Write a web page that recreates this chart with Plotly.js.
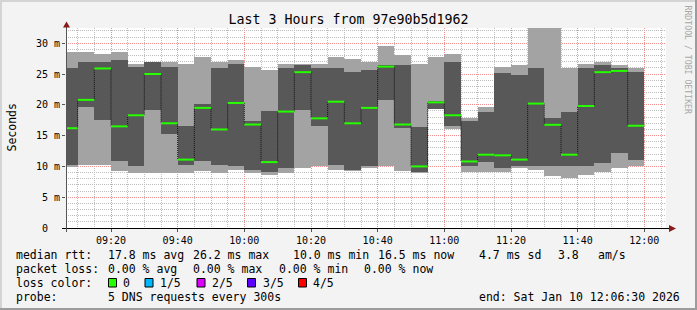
<!DOCTYPE html>
<html>
<head>
<meta charset="utf-8">
<script src="https://cdn.plot.ly/plotly-3.0.1.min.js"></script>
<style>html,body{margin:0;padding:0;background:#f3f3f3;}#chart{width:697px;height:310px;}</style>
</head>
<body>
<div id="chart"></div>
<script>
// End time of each 5-minute step (RRD step 300 s)
var stepEnds = [
 "09:10","09:15","09:20","09:25","09:30","09:35","09:40","09:45","09:50","09:55",
 "10:00","10:05","10:10","10:15","10:20","10:25","10:30","10:35","10:40","10:45",
 "10:50","10:55","11:00","11:05","11:10","11:15","11:20","11:25","11:30","11:35",
 "11:40","11:45","11:50","11:55","12:00"];
// Sorted ping times (ms) per step: ping1 (fastest) .. ping5 (slowest); ping3 = median
var ping1 = [9.9,10.2,10.3,9.3,9.0,9.0,9.0,9.0,9.3,9.0,9.4,8.9,8.6,9.0,9.7,10.0,9.4,9.2,9.66,10.0,9.3,9.0,19.4,16.0,9.06,9.06,9.06,9.7,9.4,8.4,8.1,8.6,9.06,9.7,10.0];
var ping2 = [10.3,19.7,17.6,10.8,10.0,19.1,15.3,10.2,10.95,10.2,10.0,9.4,9.06,9.66,19.1,16.6,10.25,9.4,10.0,20.7,16.2,9.06,19.4,16.6,10.0,10.7,9.8,10.0,10.0,10.0,10.0,10.0,10.6,12.25,11.1];
var median = [16.2,20.8,25.9,16.5,18.3,25.0,17.0,11.1,19.5,16.0,20.3,16.8,10.7,18.9,25.3,17.8,20.5,17.0,19.5,26.2,16.8,10.0,20.4,18.3,10.8,11.9,11.8,11.1,20.2,16.75,11.9,19.8,25.3,25.5,16.6];
var ping4 = [25.9,26.9,26.9,27.3,26.2,26.9,26.2,16.6,20.05,26.05,26.7,17.45,19.0,25.9,26.5,26.05,26.05,25.4,25.7,26.5,26.5,16.4,20.6,27.0,17.45,18.9,25.2,24.9,25.9,17.8,18.9,25.9,26.5,25.9,25.4];
var ping5 = [28.65,28.5,28.2,28.65,26.7,27.0,26.9,26.7,27.7,26.9,27.3,26.2,25.7,26.7,26.6,26.7,27.7,27.5,27.0,29.5,28.05,26.7,27.7,28.2,17.8,19.6,26.2,26.5,34.0,34.0,26.05,26.7,27.0,26.5,26.05];
var yTickVals = [0,5,10,15,20,25,30];
var yTickText = ["0\u00a0\u00a0","5 m","10 m","15 m","20 m","25 m","30 m"];
var titleText = "Last 3 Hours from 97e90b5d1962";

var DAY = "2026-01-10 ";
var STEP = 300000;
var xs = stepEnds.map(function(t){return DAY + t + ":00";});
function ms(s){return new Date(s.replace(" ","T")+"Z").getTime();}
function iso(v){return new Date(v).toISOString().replace("T"," ").replace("Z","");}

var lightTrace = {type:"bar", x:xs, base:ping1, y:ping5.map(function(v,i){return v-ping1[i];}),
  width:STEP, offset:-STEP, marker:{color:"#a3a3a3", line:{width:0}}, hoverinfo:"skip", showlegend:false};
var darkTrace = {type:"bar", x:xs, base:ping2, y:ping4.map(function(v,i){return v-ping2[i];}),
  width:STEP, offset:-STEP, marker:{color:"#585858", line:{width:0}}, hoverinfo:"skip", showlegend:false};
var stepLine = {type:"scatter", mode:"lines", x:xs, y:median, line:{shape:"vh", color:"#111", width:1, dash:"1px,1px"},
  hoverinfo:"skip", showlegend:false};
var gx=[], gy=[];
xs.forEach(function(x,i){ gx.push(iso(ms(x)-STEP), x, null); gy.push(median[i], median[i], null); });
var greenLine = {type:"scatter", mode:"lines", x:gx, y:gy, line:{color:"#26ff00", width:2}, hoverinfo:"skip", showlegend:false};

var L=66, R=666, T=28, B=228;
function px(x){return (x-L)/(R-L);}
function py(y){return (B-y)/(B-T);}
var mono = "DejaVu Sans Mono";
var ann = [];
function txt(x,y,s,opt){
  opt=opt||{};
  ann.push({xref:"paper",yref:"paper",x:px(x),y:py(y),text:s,showarrow:false,
    xanchor:opt.xanchor||"left",yanchor:"middle",borderpad:0,borderwidth:0,
    textangle:opt.angle||0,
    font:{family:mono,size:opt.size||11.5,color:opt.color||"#000"}});
}
var r1=254.5, r2=268.5, r3=282.5, r4=296.5;
txt(16,r1,"median rtt:"); txt(107.5,r1,"17.8 ms avg"); txt(193,r1,"26.2 ms max"); txt(293,r1,"10.0 ms min");
txt(378,r1,"16.5 ms now"); txt(479,r1,"4.7 ms sd"); txt(558,r1,"3.8"); txt(598,r1,"am/s");
txt(16,r2,"packet loss:"); txt(107.5,r2,"0.00 % avg"); txt(193,r2,"0.00 % max"); txt(279,r2,"0.00 % min"); txt(364,r2,"0.00 % now");
txt(16,r3,"loss color:");
var lossLabels=["0","1/5","2/5","3/5","4/5"];
var lossColors=["#26ff00","#00b8ff","#dd00ff","#5e00ff","#ff0000"];
var boxX=[108.5,145,197,247.5,298.5], labX=[122.5,160,211.5,263,313];
var shapes=[];
lossLabels.forEach(function(l,i){
  txt(labX[i],r3,l);
  shapes.push({type:"rect",xref:"paper",yref:"paper",x0:px(boxX[i]),x1:px(boxX[i]+8),y0:py(278.5),y1:py(287),
    fillcolor:lossColors[i],line:{color:"#000",width:1}});
});
txt(16,r4,"probe:"); txt(107.5,r4,"5 DNS requests every 300s");
txt(680,r4,"end: Sat Jan 10 12:06:30 2026",{xanchor:"right"});
txt(11,127.5,"Seconds",{angle:-90,xanchor:"center"});
txt(687.5,60,"RRDTOOL / TOBI OETIKER",{angle:90,xanchor:"center",size:8.2,color:"#a8a8a8"});

// axis lines and arrows
shapes.push({type:"line",xref:"paper",yref:"paper",x0:px(62),x1:px(672),y0:py(228.5),y1:py(228.5),line:{color:"#000",width:1},layer:"above"});
shapes.push({type:"line",xref:"paper",yref:"paper",x0:px(66.5),x1:px(66.5),y0:py(232),y1:py(25),line:{color:"#555",width:1},layer:"above"});
shapes.push({type:"path",xref:"paper",yref:"paper",
  path:"M "+px(63)+" "+py(27.5)+" L "+px(66.5)+" "+py(21.5)+" L "+px(70)+" "+py(27.5)+" Z",
  fillcolor:"#8b1a1a",line:{width:0},layer:"above"});
shapes.push({type:"path",xref:"paper",yref:"paper",
  path:"M "+px(669)+" "+py(225)+" L "+px(676)+" "+py(228.5)+" L "+px(669)+" "+py(232)+" Z",
  fillcolor:"#8b1a1a",line:{width:0},layer:"above"});
// outer frame
shapes.push({type:"line",xref:"paper",yref:"paper",x0:px(0),x1:px(697),y0:py(1),y1:py(1),line:{color:"#d4d4d4",width:2},layer:"below"});
shapes.push({type:"line",xref:"paper",yref:"paper",x0:px(1),x1:px(1),y0:py(0),y1:py(310),line:{color:"#d4d4d4",width:2},layer:"below"});
shapes.push({type:"line",xref:"paper",yref:"paper",x0:px(0),x1:px(697),y0:py(309),y1:py(309),line:{color:"#9c9c9c",width:2},layer:"below"});
shapes.push({type:"line",xref:"paper",yref:"paper",x0:px(696),x1:px(696),y0:py(0),y1:py(310),line:{color:"#9c9c9c",width:2},layer:"below"});

var layout = {
  width:697, height:310,
  margin:{l:L, r:697-R, t:T, b:310-B},
  paper_bgcolor:"#f3f3f3", plot_bgcolor:"#ffffff",
  barmode:"overlay", bargap:0,
  showlegend:false,
  title:{text:titleText, x:0.5, xref:"container", xanchor:"center", y:1-19/310, yref:"container", yanchor:"middle",
    font:{family:mono, size:13.3, color:"#000"}},
  xaxis:{type:"date", range:[DAY+"09:06:30", DAY+"12:06:30"],
    tick0:DAY+"09:20:00", dtick:1200000, tickformat:"%H:%M",
    showgrid:true, gridcolor:"#f09090", griddash:"1px,1px", gridwidth:1,
    minor:{dtick:300000, tick0:DAY+"09:20:00", showgrid:true, gridcolor:"#bdbdbd", griddash:"1px,1px", gridwidth:1},
    ticks:"outside", ticklen:3, tickcolor:"#555", showline:false, zeroline:false,
    tickfont:{family:mono, size:10, color:"#000"}, fixedrange:true},
  yaxis:{range:[0, (B-T)/6.16], tickmode:"array", tickvals:yTickVals, ticktext:yTickText,
    showgrid:true, gridcolor:"#f09090", griddash:"1px,1px", gridwidth:1,
    minor:{dtick:1, showgrid:true, gridcolor:"#bdbdbd", griddash:"1px,1px", gridwidth:1},
    ticks:"outside", ticklen:3, tickcolor:"#555", showline:false, zeroline:false,
    tickfont:{family:mono, size:10, color:"#000"}, fixedrange:true},
  annotations:ann, shapes:shapes
};
Plotly.newPlot("chart",[lightTrace,darkTrace,stepLine,greenLine],layout,{staticPlot:true,displayModeBar:false});
</script>
</body>
</html>
